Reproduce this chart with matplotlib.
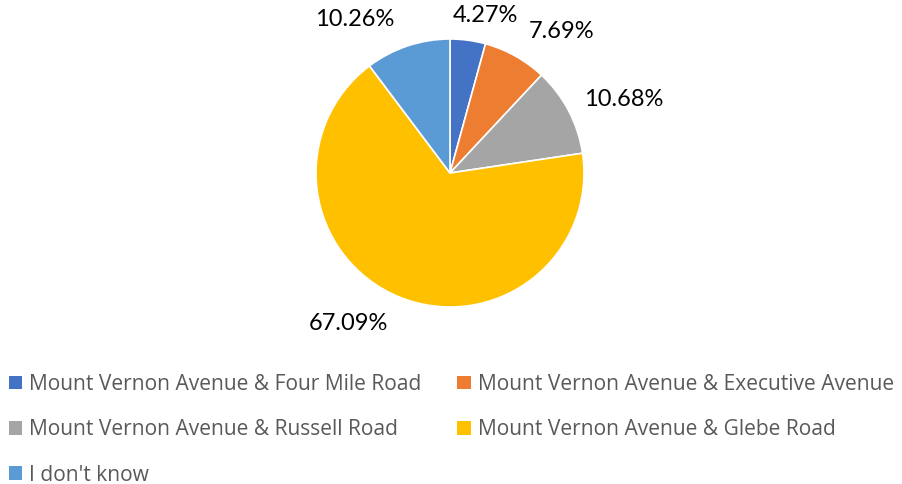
import matplotlib
matplotlib.use("Agg")
import matplotlib.pyplot as plt
from matplotlib.patches import Patch

categories = [
    "Mount Vernon Avenue & Four Mile Road",
    "Mount Vernon Avenue & Executive Avenue",
    "Mount Vernon Avenue & Russell Road",
    "Mount Vernon Avenue & Glebe Road",
    "I don't know",
]
values = [4.27, 7.69, 10.68, 67.09, 10.26]
pct_labels = ["4.27%", "7.69%", "10.68%", "67.09%", "10.26%"]
colors = ["#4472C4", "#ED7D31", "#A5A5A5", "#FFC000", "#5B9BD5"]

W, H = 902, 484
fig = plt.figure(figsize=(W / 100, H / 100), dpi=100)
cx, cy, r = 450, 173, 134
ax = fig.add_axes([(cx - r) / W, (H - cy - r) / H, 2 * r / W, 2 * r / H])
wedges, texts = ax.pie(values, colors=colors, startangle=90, counterclock=False,
                       labels=pct_labels, labeldistance=1.3,
                       wedgeprops=dict(edgecolor="white", linewidth=1.2),
                       textprops=dict(fontsize=17, family=["Lato", "DejaVu Sans"], color="#000000"))
ax.set_xlim(-1, 1)
ax.set_ylim(-1, 1)
ax.set_aspect("auto")
ax.axis("off")

# label placement (pixel positions of label centers in the figure)
label_px = [(485, 16), (562, 32), (624, 100), (348, 324), (355, 20)]
for t, (px, py) in zip(texts, label_px):
    t.set_position(((px - cx) / r, (cy - py) / r))
    t.set_ha("center")
    t.set_va("center")

# legend filled row by row (matplotlib fills column-major)
order = [0, 2, 4, 1, 3]
handles = [Patch(facecolor=colors[i], edgecolor="none") for i in order]
labels = [categories[i] for i in order]
fs = 15.1
leg = fig.legend(handles, labels, loc="upper left", bbox_to_anchor=(9 / W, 1 - 374 / H),
                 ncol=2, frameon=False, handlelength=0.63, handleheight=0.63,
                 handletextpad=0.34, columnspacing=1.7, labelspacing=1.16,
                 borderpad=0, borderaxespad=0,
                 prop=dict(family=["Open Sans", "DejaVu Sans"], size=fs))
for t in leg.get_texts():
    t.set_color("#595959")

fig.savefig("out.png", dpi=100)
